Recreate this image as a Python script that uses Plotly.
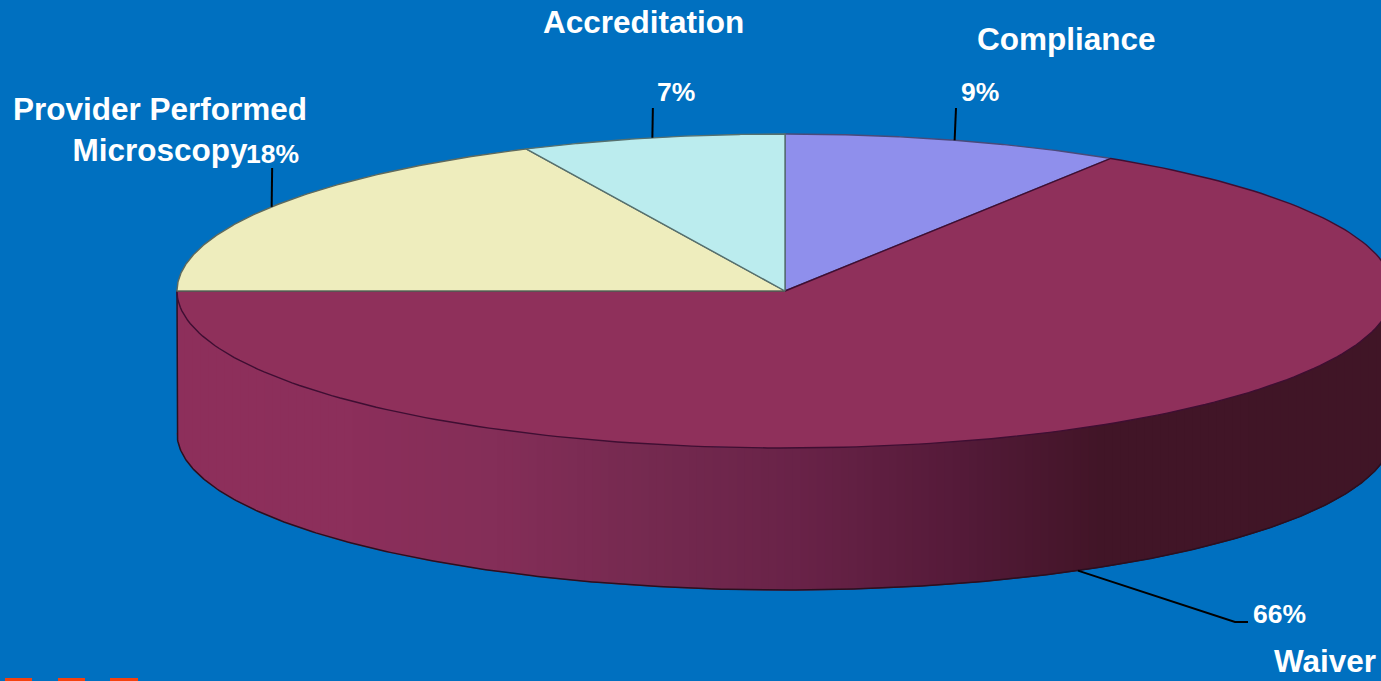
import numpy as np
import plotly.graph_objects as go

# ---- data ----
categories = ["Compliance", "Waiver", "Provider Performed<br>Microscopy", "Accreditation"]
shares = [9, 66, 18, 7]
slice_colors = ["#8F8FEC", "#8F305B", "#EEEDBD", "#BBECEE"]
edge_colors = ["#4A4A7A", "#3F0E32", "#5E6A5E", "#56706E"]

# ---- pie geometry ----
W, H = 1381, 681
CX, CY, RX, RY, DEPTH = 785, 291, 608, 157, 142
BG = "#0070C0"

def rim(angle_deg):
    a = np.radians(angle_deg)
    return CX + RX * np.sin(a), CY - RY * np.cos(a)

fig = go.Figure()

def poly(xs, ys, fill, line, width=1.0):
    fig.add_trace(go.Scatter(x=list(xs), y=list(ys), mode="lines", fill="toself",
                             fillcolor=fill, line=dict(color=line, width=width),
                             hoverinfo="skip", showlegend=False))

# side wall: shaded strips
stops_x = [177, 350, 500, 650, 800, 950, 1100, 1393]
stops_rgb = np.array([[0x8E, 0x2F, 0x5B], [0x8C, 0x2F, 0x5B], [0x84, 0x2E, 0x58],
                      [0x75, 0x2A, 0x50], [0x69, 0x23, 0x48], [0x56, 0x1B, 0x3A],
                      [0x42, 0x15, 0x28], [0x40, 0x15, 0x26]])
angles_wall = np.linspace(270, 90, 361)
wx, wy = rim(angles_wall)
edges = np.arange(177, 1393 + 8, 8)
for x0, x1 in zip(edges[:-1], edges[1:]):
    x1 = min(x1, CX + RX)
    xs = np.linspace(x0, x1, 4)
    ys = CY + RY * np.sqrt(np.clip(1 - ((xs - CX) / RX) ** 2, 0, 1))
    mid = (x0 + x1) / 2
    c = [int(np.interp(mid, stops_x, stops_rgb[:, i])) for i in range(3)]
    col = f"rgb({c[0]},{c[1]},{c[2]})"
    poly(np.r_[xs, xs[::-1]], np.r_[ys, ys[::-1] + DEPTH], col, col, 1)

# wall outline
fig.add_trace(go.Scatter(x=np.r_[wx[0], wx], y=np.r_[wy[0], wy + DEPTH], mode="lines",
                         line=dict(color="#2A1020", width=1.5),
                         hoverinfo="skip", showlegend=False))

# top face slices
total = sum(shares)
start = 0.0
mids = []
for share, fill, edge in zip(shares, slice_colors, edge_colors):
    end = start + share / total * 360
    ang = np.linspace(start, end, 200)
    x, y = rim(ang)
    poly(np.r_[CX, x, CX], np.r_[CY, y, CY], fill, edge, 1.4)
    mids.append((start + end) / 2)
    start = end

# leader lines, anchored on each slice's mid angle
line_style = dict(color="black", width=2)
for i, mid in enumerate(mids):
    ax, ay = rim(mid)
    if i == 0:
        lx, ly = [ax, 956], [ay, 108]
    elif i == 1:
        ay += DEPTH
        lx, ly = [ax, 1235, 1248], [ay, 622, 622]
    elif i == 2:
        lx, ly = [ax, ax + 0.5], [ay, 168]
    else:
        lx, ly = [ax, ax + 0.5], [ay, 108]
    fig.add_trace(go.Scatter(x=lx, y=ly, mode="lines", line=line_style,
                             hoverinfo="skip", showlegend=False))

# text
name_pos = [(1066, 39), (1325, 661), (160, 129), (643, 22)]
pct_pos = [(980, 92), (1279, 614), (272, 154), (676, 92)]
annotations = []
for cat, share, np_, pp in zip(categories, shares, name_pos, pct_pos):
    annotations.append(dict(x=np_[0], y=np_[1], text=cat, showarrow=False, align="center",
                            xref="x", yref="y", xanchor="center", yanchor="middle",
                            font=dict(family="Liberation Sans", size=31.5, color="white", weight=700)))
    annotations.append(dict(x=pp[0], y=pp[1], text=f"{share}%", showarrow=False,
                            xref="x", yref="y", xanchor="center", yanchor="middle",
                            font=dict(family="Liberation Sans", size=26.5, color="white", weight=700)))

# slide decoration at the bottom edge
shapes = [dict(type="rect", x0=a, x1=b, y0=678, y1=690, xref="x", yref="y",
               fillcolor="#F5420F", line=dict(width=0), layer="below")
          for a, b in [(5, 32), (58, 85), (110, 138)]]

fig.update_layout(width=W, height=H, margin=dict(l=0, r=0, t=0, b=0),
                  paper_bgcolor=BG, plot_bgcolor=BG, showlegend=False,
                  annotations=annotations, shapes=shapes,
                  xaxis=dict(range=[0, W], visible=False, fixedrange=True),
                  yaxis=dict(range=[H, 0], visible=False, fixedrange=True))

fig.write_html("out.html", config={"displayModeBar": False},
               post_script="document.body.style.margin='0';document.body.style.overflow='hidden';")
